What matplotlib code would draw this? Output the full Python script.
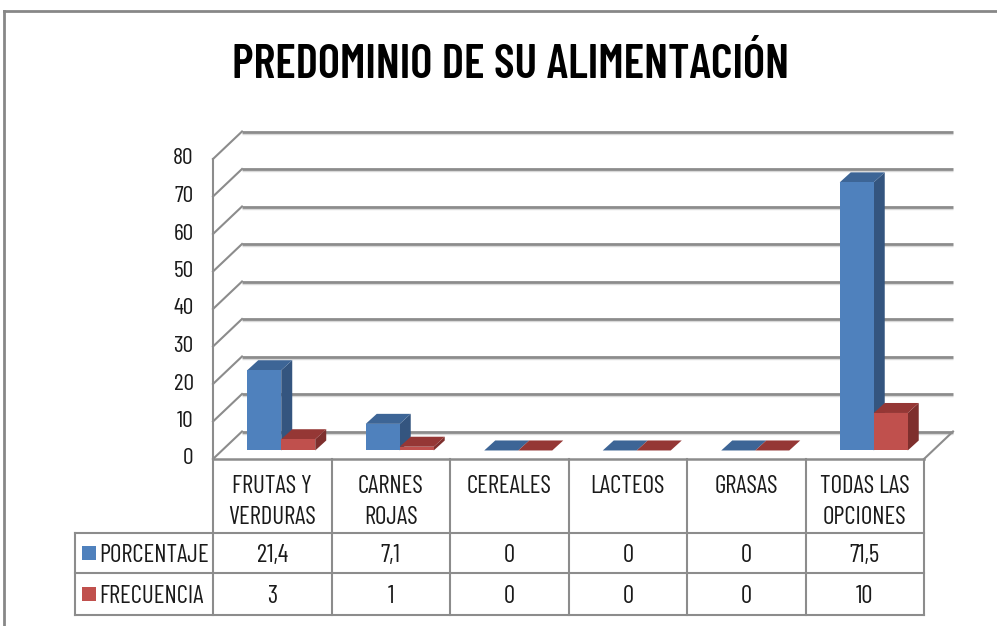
import matplotlib
matplotlib.use("Agg")
import matplotlib.pyplot as plt
from matplotlib.patches import Polygon, Rectangle
from matplotlib import font_manager

# ---------------- data ----------------
categories = ["FRUTAS Y\nVERDURAS", "CARNES\nROJAS", "CEREALES", "LACTEOS", "GRASAS", "TODAS LAS\nOPCIONES"]
series_names = ["PORCENTAJE", "FRECUENCIA"]
porcentaje = [21.4, 7.1, 0, 0, 0, 71.5]
frecuencia = [3, 1, 0, 0, 0, 10]
porcentaje_txt = ["21,4", "7,1", "0", "0", "0", "71,5"]
frecuencia_txt = ["3", "1", "0", "0", "0", "10"]
yticks = [0, 10, 20, 30, 40, 50, 60, 70, 80]
title = "PREDOMINIO DE SU ALIMENTACIÓN"

# ---------------- style ----------------
names = {f.name for f in font_manager.fontManager.ttflist}
FONT = next((f for f in ["Barlow Condensed", "PT Sans Narrow", "Carlito"] if f in names), "DejaVu Sans")
plt.rcParams["font.family"] = [FONT, "DejaVu Sans"]

blue = dict(front="#4F81BD", top="#3D6596", side="#34557F")
red = dict(front="#C0504D", top="#953735", side="#7E2F2D")
grid_c = "#8C8C8C"
txt_c = "#1a1a1a"

W, H = 997, 626
fig = plt.figure(figsize=(W / 100, H / 100), dpi=100)
fig.patch.set_facecolor("white")

# overlay axes in pixel coordinates (layout only)
ov = fig.add_axes([0, 0, 1, 1])
ov.set_xlim(0, W)
ov.set_ylim(H, 0)
ov.axis("off")

# plot axes: front plane, x in category units, y in value units
x_left, x_right = 213, 924
y_zero, y_top = 459, 159
ax = fig.add_axes([x_left / W, (H - y_zero) / H, (x_right - x_left) / W, (y_zero - y_top) / H])
n = len(categories)
ax.set_xlim(0, n)
ax.set_ylim(0, 80)
for s in ax.spines.values():
    s.set_visible(False)
ax.patch.set_alpha(0)
ax.set_xticks([])
ax.set_yticks(yticks)
ax.set_yticklabels([str(t) for t in yticks], fontsize=17, color=txt_c)
ax.tick_params(axis="y", length=0, pad=14)
for lab in ax.get_yticklabels():
    lab.set_verticalalignment("center")

px_per_cat = (x_right - x_left) / n
px_per_val = (y_zero - y_top) / 80.0
DX = 29 / px_per_cat      # full depth offset (category units)
DY = 27.5 / px_per_val    # full depth offset (value units)

# back wall gridlines + left wall diagonals
for g in yticks:
    ax.plot([DX, n + DX], [g + DY, g + DY], color=grid_c, lw=2, zorder=1, clip_on=False,
            solid_capstyle="butt")
    ax.plot([DX, n + DX], [g + DY - 0.55, g + DY - 0.55], color="#d9d9d9", lw=1, zorder=0.9,
            clip_on=False, solid_capstyle="butt")
    ax.plot([0, DX], [g, g + DY], color=grid_c, lw=1.5, zorder=1, clip_on=False)
# left wall front edge
ax.plot([0, 0], [0, 80], color=grid_c, lw=1.5, zorder=1, clip_on=False)
# floor front edge and right diagonal
ax.plot([0, n], [0, 0], color=grid_c, lw=1.8, zorder=1, clip_on=False)
ax.plot([n, n + DX], [0, DY], color=grid_c, lw=1.5, zorder=1, clip_on=False)

# bars
frac = 0.31
sx, sy = DX * frac, DY * frac
bw = 34 / px_per_cat
bdx = 11 / px_per_cat
bdy = 10 / px_per_val


def bar3d(xl, v, col):
    top = v + sy
    ax.add_patch(Polygon([(xl + bw, sy), (xl + bw, top), (xl + bw + bdx, top + bdy), (xl + bw + bdx, sy + bdy)],
                         closed=True, facecolor=col["side"], edgecolor="none", zorder=3, clip_on=False))
    ax.add_patch(Polygon([(xl, top), (xl + bw, top), (xl + bw + bdx, top + bdy), (xl + bdx, top + bdy)],
                         closed=True, facecolor=col["top"], edgecolor="none", zorder=3, clip_on=False))
    if v > 0:
        ax.add_patch(Rectangle((xl, sy), bw, v, facecolor=col["front"], edgecolor="none",
                               zorder=3, clip_on=False))


for i in range(n):
    c = i + 0.5 + sx
    bar3d(c - bw, porcentaje[i], blue)
    bar3d(c, frecuencia[i], red)

# ---------------- title ----------------
ov.text(510, 78, title, ha="center", va="baseline", fontsize=34, fontweight=600, color="black")

# chart border
ov.plot([4, W], [11, 11], color="#878787", lw=2)
ov.plot([4, 4], [11, H], color="#878787", lw=2)

# ---------------- data table ----------------
col_x = [x_left + px_per_cat * k for k in range(n + 1)]
t_left = 75
r_head_bot, r1_bot, r2_bot = 533, 573, 615
tc = grid_c
for x in col_x:
    ov.plot([x, x], [y_zero, r2_bot], color=tc, lw=1.5)
for y in (r_head_bot, r1_bot, r2_bot):
    ov.plot([t_left, col_x[-1]], [y, y], color=tc, lw=1.5)
ov.plot([t_left, t_left], [r_head_bot, r2_bot], color=tc, lw=1.5)

fs = 18
for i, cat in enumerate(categories):
    cx = (col_x[i] + col_x[i + 1]) / 2
    for k, line in enumerate(cat.split("\n")):
        ov.text(cx, 493 + 31.5 * k, line, ha="center", va="baseline", fontsize=fs, color=txt_c)
    ov.text(cx, 562, porcentaje_txt[i], ha="center", va="baseline", fontsize=fs, color=txt_c)
    ov.text(cx, 603, frecuencia_txt[i], ha="center", va="baseline", fontsize=fs, color=txt_c)

for name, col, base in zip(series_names, (blue, red), (562, 603)):
    ov.add_patch(Rectangle((82, base - 16), 14, 14, facecolor=col["front"], edgecolor="none"))
    ov.text(99, base, name, ha="left", va="baseline", fontsize=fs, color=txt_c)

fig.savefig("out.png", dpi=100)
